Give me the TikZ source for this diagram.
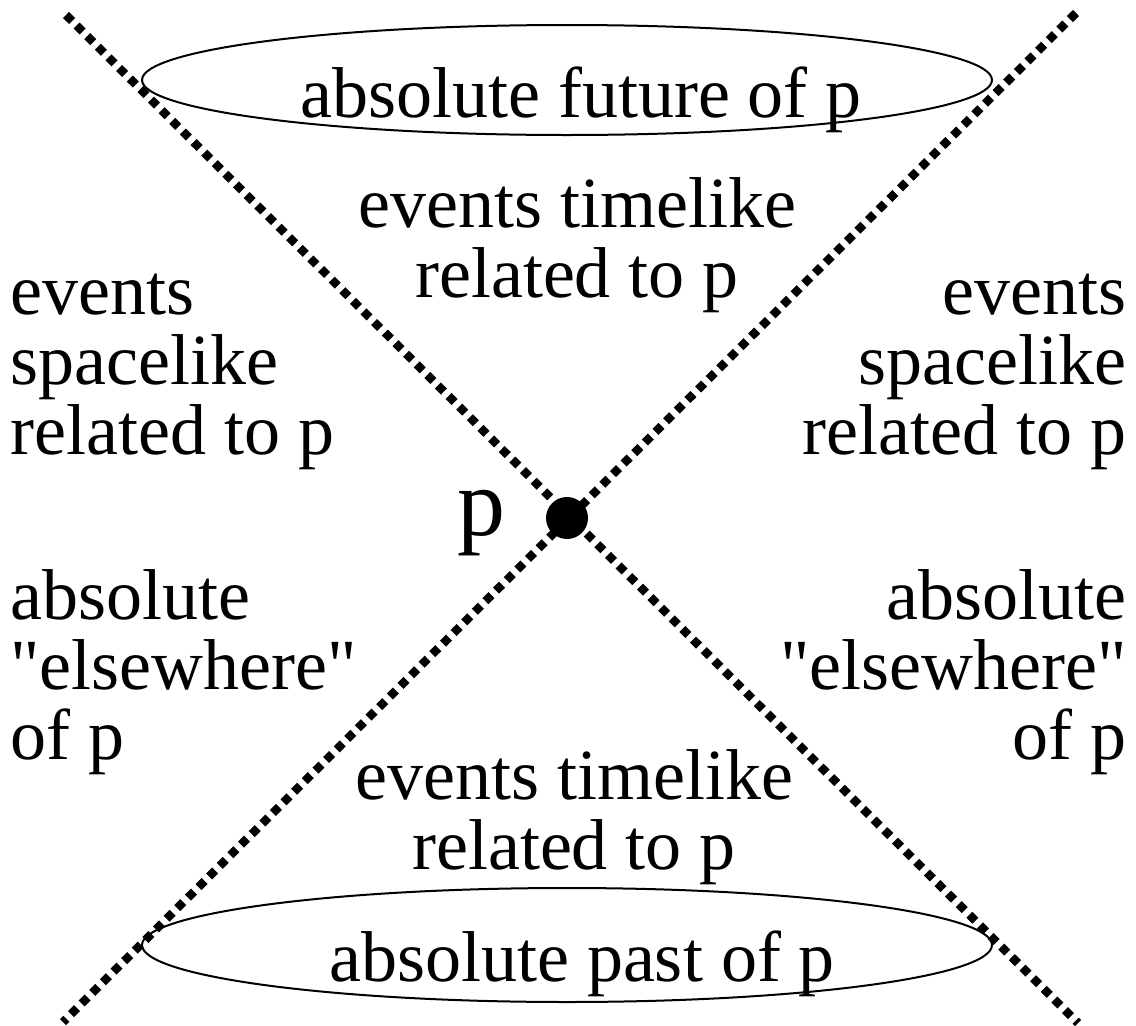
\documentclass[tikz,border=0pt]{standalone}
\usepackage{fontspec}
\setmainfont{Liberation Serif}
\begin{document}
\begin{tikzpicture}[x=1pt,y=-1pt,
  cone/.style={line width=8.5pt, dash pattern=on 8.5pt off 6.5pt},
  region/.style={inner sep=0pt, font=\fontsize{72}{70}\selectfont},
  oval/.style={draw, line width=2pt}]
\useasboundingbox (0,0) rectangle (1136,1026);
\coordinate (tl) at (66,15);
\coordinate (br) at (1078,1023);
\coordinate (tr) at (1076,13);
\coordinate (bl) at (63,1022);
\draw[cone] (tl) -- (br);
\draw[cone] (tr) -- (bl);
\node[draw=none, fill=black, circle, minimum size=42pt, inner sep=0pt] (p) at (567,518) {};
\draw[oval] (567,80) ellipse [x radius=425, y radius=55];
\draw[oval] (567,945) ellipse [x radius=425, y radius=57];
\node[region] (fut) at (581,100) {absolute future of p};
\node[region] (past) at (582,964) {absolute past of p};
\node[region, align=center] (tf) at (577,245) {events timelike\\related to p};
\node[region, align=center] (tp) at (574,817) {events timelike\\related to p};
\node[region, align=left, anchor=west] (sl) at (10,372) {events\\spacelike\\related to p};
\node[region, align=right, anchor=east] (sr) at (1127,372) {events\\spacelike\\related to p};
\node[region, align=left, anchor=west] (el) at (10,672) {absolute\\\textquotedbl elsewhere\textquotedbl\\of p};
\node[region, align=right, anchor=east] (er) at (1127,672) {absolute\\\textquotedbl elsewhere\textquotedbl\\of p};
\node[inner sep=0pt, font=\fontsize{96}{100}\selectfont] (plabel) at (481,523) {p};
\end{tikzpicture}
\end{document}
